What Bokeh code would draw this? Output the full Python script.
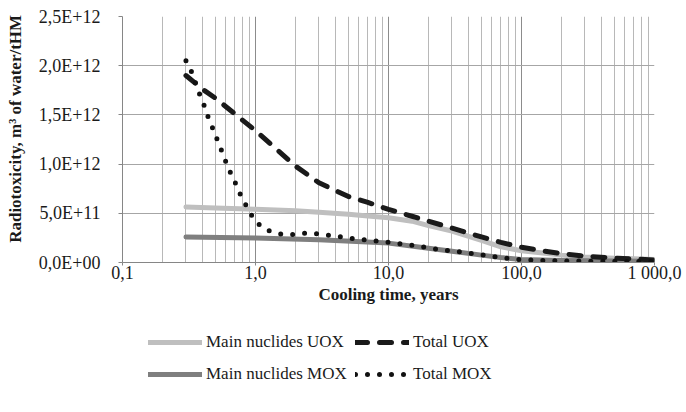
from bokeh.plotting import figure
from bokeh.models import FixedTicker, Legend, LegendItem, Range1d
from bokeh.layouts import column
from bokeh.embed import file_html
from bokeh.resources import INLINE

# ---- data ----
t_main_uox = [0.3, 0.5, 1, 2, 3, 5, 7, 10, 15, 20, 30, 50, 70, 100, 150, 200, 300, 500, 700, 1000]
main_uox = [5.65e11, 5.55e11, 5.4e11, 5.25e11, 5.1e11, 4.9e11, 4.72e11, 4.55e11, 4.2e11, 3.75e11,
            3.2e11, 2.25e11, 1.6e11, 1.2e11, 9.5e10, 7.5e10, 5.5e10, 4.3e10, 3.7e10, 3.0e10]

t_total_uox = [0.3, 0.4, 0.5, 0.7, 1, 1.5, 2, 3, 5, 7, 10, 15, 20, 30, 50, 70, 100, 150, 200,
               300, 500, 700, 1000]
total_uox = [1.90e12, 1.76e12, 1.67e12, 1.51e12, 1.34e12, 1.13e12, 9.8e11, 8.1e11, 6.7e11,
             6.1e11, 5.4e11, 4.7e11, 4.2e11, 3.5e11, 2.6e11, 2.05e11, 1.55e11, 1.15e11, 9.0e10,
             6.5e10, 4.5e10, 3.6e10, 2.5e10]

t_main_mox = [0.3, 1, 3, 10, 20, 30, 50, 70, 100, 200, 500, 1000]
main_mox = [2.6e11, 2.5e11, 2.3e11, 1.97e11, 1.45e11, 1.15e11, 7.5e10, 5.0e10, 3.0e10, 2.0e10,
            1.5e10, 1.2e10]

t_total_mox = [0.3, 0.33, 0.38, 0.41, 0.44, 0.475, 0.515, 0.555, 0.6, 0.65, 0.71, 0.77, 0.85,
               0.94, 1.09, 1.29, 1.59, 1.94, 2.4, 2.94, 3.6, 4.5, 5.5, 6.8, 8.4, 10.2, 15.5,
               23.6, 35.8, 54.6, 83, 100, 200, 500, 1000]
total_mox = [2.05e12, 1.94e12, 1.71e12, 1.60e12, 1.48e12, 1.37e12, 1.25e12, 1.14e12, 1.02e12,
             9.1e11, 8.0e11, 6.9e11, 5.8e11, 4.75e11, 3.7e11, 3.16e11, 2.85e11, 2.85e11, 3.0e11,
             2.9e11, 2.75e11, 2.58e11, 2.4e11, 2.3e11, 2.17e11, 2.04e11, 1.73e11, 1.32e11,
             1.05e11, 7.1e10, 3.7e10, 2.7e10, 1.5e10, 1.2e10, 1.0e10]

x_ticks = [0.1, 1, 10, 100, 1000]
x_tick_labels = ["0,1", "1,0", "10,0", "100,0", "1 000,0"]
x_minor = [0.2, 0.3, 0.4, 0.5, 0.6, 0.7, 0.8, 0.9, 2, 3, 4, 5, 6, 7, 8, 9,
           20, 30, 40, 50, 60, 70, 80, 90, 200, 300, 400, 500, 600, 700, 800, 900]
y_ticks = [0, 5e11, 1e12, 1.5e12, 2e12, 2.5e12]
y_tick_labels = ["0,0E+00", "5,0E+11", "1,0E+12", "1,5E+12", "2,0E+12", "2,5E+12"]

x_title = "Cooling time, years"
y_title = "Radiotoxicity, m³ of water/tHM"
labels = ["Main nuclides UOX", "Total UOX", "Main nuclides MOX", "Total MOX"]

FONT = "Liberation Serif"
TXT = "#1a1a1a"

STYLES = [
    dict(line_color="#bfbfbf", line_width=5, line_cap="round", line_join="round"),
    dict(line_color="#1a1a1a", line_width=5, line_dash="12 12", line_cap="round", line_join="round"),
    dict(line_color="#7f7f7f", line_width=5, line_cap="round", line_join="round"),
    dict(line_color="#111111", line_width=5, line_dash="0 12", line_cap="round", line_join="round"),
]
SERIES = [(t_main_uox, main_uox), (t_total_uox, total_uox),
          (t_main_mox, main_mox), (t_total_mox, total_mox)]


def draw_series(fig):
    rs = [None] * 4
    for i in (0, 2, 1, 3):
        x, y = SERIES[i]
        rs[i] = fig.line(x, y, **STYLES[i])
    return rs


# ---- main chart ----
p = figure(width=686, height=320, x_axis_type="log",
           x_range=Range1d(0.1, 1000), y_range=Range1d(0, 2.5e12),
           output_backend="svg", toolbar_location=None,
           min_border_left=122, min_border_right=32, min_border_top=16, min_border_bottom=58)
p.outline_line_color = None
p.background_fill_color = "white"
p.border_fill_color = "white"

p.xaxis.ticker = FixedTicker(ticks=x_ticks, minor_ticks=x_minor)
p.yaxis.ticker = FixedTicker(ticks=y_ticks, minor_ticks=[])
p.xgrid.grid_line_color = "#8c8c8c"
p.xgrid.minor_grid_line_color = "#b8b8b8"
p.ygrid.grid_line_color = "#a6a6a6"

for ax in (p.xaxis[0], p.yaxis[0]):
    ax.axis_line_color = "#868686"
    ax.major_tick_line_color = "#868686"
    ax.major_tick_in = 0
    ax.minor_tick_line_color = None
    ax.major_label_text_font = FONT
    ax.major_label_text_font_size = "18px"
    ax.major_label_text_color = TXT
    ax.axis_label_text_font = FONT
    ax.axis_label_text_font_size = "17px"
    ax.axis_label_text_font_style = "bold"
    ax.axis_label_text_color = TXT

p.xaxis.major_label_overrides = {v: s for v, s in zip(x_ticks, x_tick_labels)}
p.xaxis.major_tick_out = 3
p.xaxis.major_label_standoff = -4
p.xaxis.axis_label = x_title
p.xaxis.axis_label_standoff = -1

p.yaxis.major_label_overrides = {v: s for v, s in zip(y_ticks, y_tick_labels)}
p.yaxis.major_tick_out = 4
p.yaxis.major_label_standoff = 18
# leading no-break spaces nudge the centred title a little upwards, as in the reference
p.yaxis.axis_label = "\u00a0" * 5 + y_title
p.yaxis.axis_label_standoff = 11

draw_series(p)

# ---- legend strip (same series, drawn outside its view; only the legend shows) ----
pl = figure(width=686, height=92, x_range=Range1d(0, 1), y_range=Range1d(0, 1),
            output_backend="svg", toolbar_location=None,
            x_axis_location=None, y_axis_location=None,
            min_border_left=0, min_border_right=0, min_border_top=0, min_border_bottom=0)
pl.outline_line_color = None
pl.grid.visible = False
pl.background_fill_color = "white"
pl.border_fill_color = "white"
lr = draw_series(pl)


def make_legend(items, loc):
    return Legend(items=items, orientation="horizontal", location=loc,
                  label_text_font=FONT, label_text_font_size="17px", label_text_color=TXT,
                  glyph_width=54, glyph_height=20, label_height=32, label_width=146,
                  label_standoff=4, spacing=3, padding=0, margin=0,
                  border_line_color=None, background_fill_alpha=0)


lg1 = make_legend([LegendItem(label=labels[0], renderers=[lr[0]]),
                   LegendItem(label=labels[1], renderers=[lr[1]])], (26, 54))
lg2 = make_legend([LegendItem(label=labels[2], renderers=[lr[2]]),
                   LegendItem(label=labels[3], renderers=[lr[3]])], (26, 22))
pl.add_layout(lg1)
pl.add_layout(lg2)

layout = column(p, pl, spacing=0)
open("out.html", "w").write(file_html(layout, INLINE))
